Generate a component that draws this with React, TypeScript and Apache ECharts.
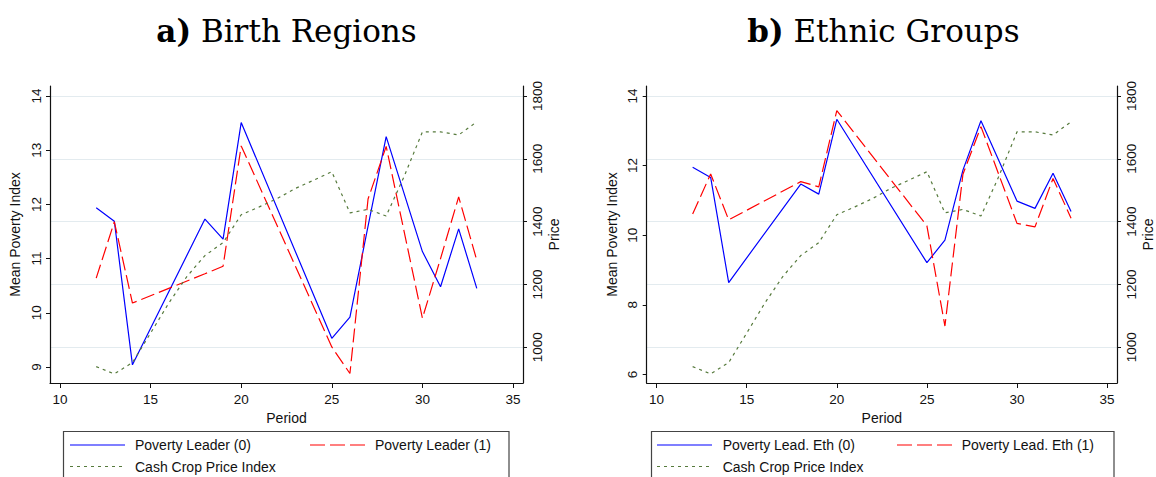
import React, { useEffect, useRef } from "react";
import * as echarts from "echarts";

// ---- Data ----
const periods = [12, 13, 14, 18, 19, 20, 25, 26, 27, 28, 30, 31, 32, 33];
const birthLeader0 = [11.94, 11.69, 9.04, 11.73, 11.36, 13.51, 9.53, 9.92, 11.6, 13.25, 11.13, 10.48, 11.55, 10.45];
const birthLeader1 = [10.64, 11.68, 10.18, 10.72, 10.86, 13.08, 9.37, 8.88, 12.1, 13.07, 9.9, 11.0, 12.14, 10.97];
const ethLeader0 = [11.95, 11.66, 8.64, 11.47, 11.18, 13.33, 9.21, 9.86, 11.87, 13.29, 10.98, 10.77, 11.78, 10.68];
const ethLeader1 = [10.61, 11.76, 10.44, 11.54, 11.39, 13.58, 10.27, 7.39, 11.75, 13.12, 10.34, 10.24, 11.63, 10.49];
const pricePeriods = [12, 13, 14, 15, 16, 17, 18, 19, 20, 21, 22, 23, 24, 25, 26, 27, 28, 29, 30, 31, 32, 33];
const cashCropPrice = [938, 915, 951, 1045, 1140, 1225, 1292, 1333, 1422, 1447, 1474, 1506, 1532, 1559, 1428, 1439, 1418, 1545, 1686, 1686, 1676, 1718];

const periodTicks = [10, 15, 20, 25, 30, 35];
const birthTicks = [9, 10, 11, 12, 13, 14];
const ethTicks = [6, 8, 10, 12, 14];
const priceTicks = [1000, 1200, 1400, 1600, 1800];

const seriesNames = {
  b0: "Poverty Leader (0)",
  b1: "Poverty Leader (1)",
  e0: "Poverty Lead. Eth (0)",
  e1: "Poverty Lead. Eth (1)",
  price: "Cash Crop Price Index",
};

const SANS = "'Liberation Sans', Arial, sans-serif";
const SERIF = "'DejaVu Serif', serif";
const BLUE = "#0000ff";
const RED = "#ff0000";
const GREEN = "#567a3c";
const GRID = "#e3ebef";

const pairs = (xs: number[], ys: number[]) => xs.map((x, i) => [x, ys[i]]);
const plain = (v: number) => String(v);

function xAxisFor(gridIndex: number) {
  return {
    gridIndex,
    type: "value",
    min: 9.45,
    max: 35.55,
    name: "Period",
    nameLocation: "middle",
    nameGap: 25,
    nameTextStyle: { fontFamily: SANS, fontSize: 14, color: "#111" },
    axisLine: { show: true, onZero: false, lineStyle: { color: "#111", width: 1.2 } },
    axisTick: { show: true, length: 5, customValues: periodTicks, lineStyle: { color: "#111" } },
    axisLabel: { customValues: periodTicks, margin: 9, fontFamily: SANS, fontSize: 13.5, color: "#111", formatter: plain },
    splitLine: { show: false },
  };
}

function leftYAxis(gridIndex: number, min: number, max: number, ticks: number[]) {
  return {
    gridIndex,
    type: "value",
    position: "left",
    min,
    max,
    name: "Mean Poverty Index",
    nameLocation: "middle",
    nameRotate: 90,
    nameGap: 28,
    nameTextStyle: { fontFamily: SANS, fontSize: 14, color: "#111" },
    axisLine: { show: true, onZero: false, lineStyle: { color: "#111", width: 1.2 } },
    axisTick: { show: true, length: 4, customValues: ticks, lineStyle: { color: "#111" } },
    axisLabel: { customValues: ticks, rotate: 90, margin: 7, fontFamily: SANS, fontSize: 13.5, color: "#111", formatter: plain },
    splitLine: { show: false },
  };
}

function priceAxis(gridIndex: number) {
  return {
    gridIndex,
    type: "value",
    position: "right",
    min: 886,
    max: 1832,
    name: "Price",
    nameLocation: "middle",
    nameRotate: 90,
    nameGap: 24,
    nameTextStyle: { fontFamily: SANS, fontSize: 14, color: "#111" },
    axisLine: { show: true, onZero: false, lineStyle: { color: "#111", width: 1.2 } },
    axisTick: { show: true, length: 4, customValues: priceTicks, lineStyle: { color: "#111" } },
    axisLabel: { customValues: priceTicks, rotate: 90, margin: 7, fontFamily: SANS, fontSize: 13.5, color: "#111", formatter: plain },
    splitLine: { show: true, lineStyle: { color: GRID, width: 1 } },
  };
}

function lineSeries(name: string, xi: number, yi: number, data: number[][], color: string, dash: any) {
  return {
    name,
    type: "line",
    xAxisIndex: xi,
    yAxisIndex: yi,
    data,
    showSymbol: false,
    symbol: "none",
    lineStyle: { color, width: 1.2, type: dash },
    itemStyle: { color },
  };
}

function legendBlock(x0: number, width: number, lineX: number, textX: number, line2X: number, text2X: number, n0: string, n1: string) {
  const y1 = 445;
  const y2 = 466.5;
  const txt = (x: number, y: number, t: string) => ({
    type: "text",
    x,
    y,
    style: { text: t, fontFamily: SANS, fontSize: 14, fill: "#111", verticalAlign: "middle", align: "left" },
  });
  return [
    { type: "rect", shape: { x: x0, y: 431.5, width, height: 70 }, style: { fill: "#fff", stroke: "#444", lineWidth: 1.2 } },
    { type: "line", shape: { x1: lineX, y1, x2: lineX + 55, y2: y1 }, style: { stroke: BLUE, lineWidth: 1.2 } },
    txt(textX, y1, n0),
    { type: "line", shape: { x1: line2X, y1, x2: line2X + 56, y2: y1 }, style: { stroke: RED, lineWidth: 1.2, lineDash: [15, 5] } },
    txt(text2X, y1, n1),
    { type: "line", shape: { x1: lineX, y1: y2, x2: lineX + 55, y2 }, style: { stroke: GREEN, lineWidth: 1.2, lineDash: [3, 4] } },
    txt(textX, y2, seriesNames.price),
  ];
}

function titleText(x: number, label: string, rest: string) {
  return {
    type: "text",
    x,
    y: 31,
    style: {
      text: `{b|${label}} ${rest}`,
      fontFamily: SERIF,
      fontSize: 31,
      fill: "#000",
      align: "center",
      verticalAlign: "middle",
      rich: { b: { fontFamily: SERIF, fontSize: 31, fontWeight: "bold", fill: "#000" } },
    },
  };
}

export default function App() {
  const ref = useRef<HTMLDivElement>(null);
  useEffect(() => {
    if (!ref.current) return;
    const chart = echarts.init(ref.current, null, { renderer: "svg" });
    const option: any = {
      animation: false,
      backgroundColor: "#fff",
      grid: [
        { left: 50, top: 86, width: 473, height: 297 },
        { left: 646.7, top: 86, width: 473.3, height: 297 },
      ],
      xAxis: [xAxisFor(0), xAxisFor(1)],
      yAxis: [
        leftYAxis(0, 8.705, 14.185, birthTicks),
        priceAxis(0),
        leftYAxis(1, 5.753, 14.287, ethTicks),
        priceAxis(1),
      ],
      series: [
        lineSeries(seriesNames.b0, 0, 0, pairs(periods, birthLeader0), BLUE, "solid"),
        lineSeries(seriesNames.b1, 0, 0, pairs(periods, birthLeader1), RED, [14, 5]),
        lineSeries(seriesNames.price, 0, 1, pairs(pricePeriods, cashCropPrice), GREEN, [3, 4]),
        lineSeries(seriesNames.e0, 1, 2, pairs(periods, ethLeader0), BLUE, "solid"),
        lineSeries(seriesNames.e1, 1, 2, pairs(periods, ethLeader1), RED, [14, 5]),
        lineSeries(seriesNames.price, 1, 3, pairs(pricePeriods, cashCropPrice), GREEN, [3, 4]),
      ],
      graphic: [
        titleText(286.5, "a)", "Birth Regions"),
        titleText(883.4, "b)", "Ethnic Groups"),
        ...legendBlock(63.5, 445.5, 70, 135, 310, 375, seriesNames.b0, seriesNames.b1),
        ...legendBlock(651.5, 462.5, 657, 722.7, 897, 961.7, seriesNames.e0, seriesNames.e1),
      ],
    };
    chart.setOption(option);
    return () => chart.dispose();
  }, []);
  return (
    <div
      ref={ref}
      style={{ position: "fixed", left: 0, top: 0, width: 1156, height: 477, background: "#fff" }}
    />
  );
}
